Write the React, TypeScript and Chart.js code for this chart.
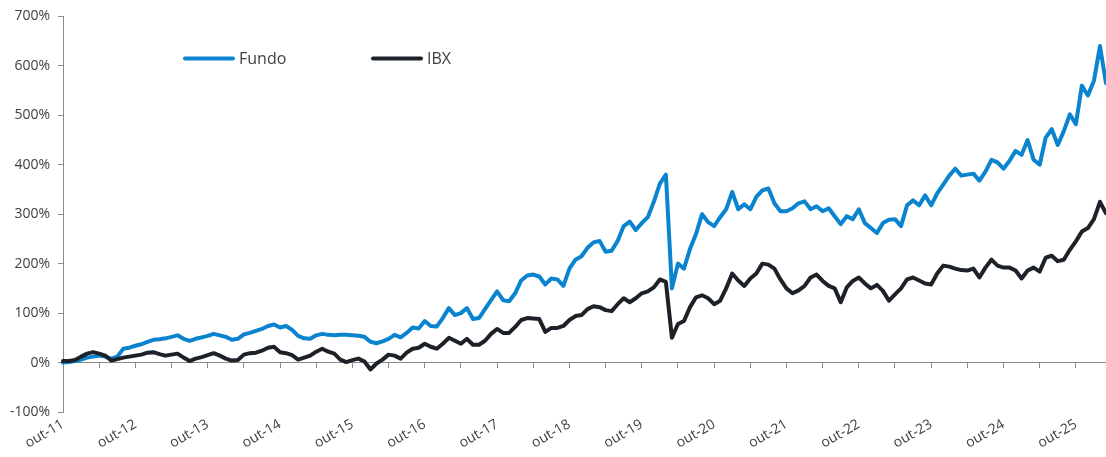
import React, { useEffect, useRef } from 'react';
import { Chart, registerables } from 'chart.js';

Chart.register(...registerables);

// Series names
const seriesNames = ['Fundo', 'IBX'];

// Monthly accumulated return (%), starting out-11
const fundo = [
  0, 1, 3, 6, 10, 12, 14, 12, 8, 12,
  28, 30, 34, 37, 42, 46, 47, 49, 52, 55,
  48, 44, 48, 51, 54, 58, 55, 52, 46, 48,
  57, 60, 64, 68, 74, 77, 71, 74, 66, 54,
  49, 48, 55, 58, 56, 55, 56, 56, 55, 54,
  52, 42, 39, 43, 48, 56, 51, 60, 71, 69,
  84, 74, 73, 90, 110, 96, 100, 110, 88, 90,
  108, 126, 144, 126, 124, 140, 166, 176, 178, 174,
  158, 170, 168, 155, 190, 208, 215, 232, 243, 246,
  224, 226, 246, 276, 285, 268, 282, 294, 325, 362,
  380, 150, 200, 190, 230, 260, 300, 284, 276, 294,
  310, 345, 310, 320, 310, 335, 348, 352, 322, 306,
  306, 312, 322, 326, 310, 316, 306, 312, 296, 280,
  296, 290, 310, 282, 272, 262, 282, 289, 290, 276,
  318, 328, 318, 338, 318, 342, 360, 378, 392, 378,
  380, 382, 368, 386, 410, 405, 392, 408, 428, 420,
  450, 410, 400, 455, 472, 440, 468, 502, 482, 560,
  540, 570, 640, 565,
];

const ibx = [
  3, 3, 5, 12, 18, 21, 18, 14, 4, 7,
  10, 12, 14, 16, 20, 21, 17, 14, 16, 18,
  10, 3, 8, 11, 15, 19, 14, 8, 4, 5,
  16, 19, 20, 24, 30, 32, 21, 19, 15, 6,
  10, 14, 22, 28, 22, 18, 6, 1, 5, 8,
  2, -14, -2, 6, 16, 14, 8, 20, 28, 30,
  38, 32, 28, 38, 50, 44, 38, 48, 36, 36,
  44, 58, 68, 60, 60, 72, 86, 90, 89, 88,
  62, 70, 70, 74, 86, 94, 96, 108, 114, 112,
  106, 104, 118, 130, 122, 130, 140, 144, 152, 168,
  163, 50, 78, 84, 112, 132, 136, 130, 118, 125,
  150, 180, 166, 155, 170, 180, 200, 198, 190, 168,
  150, 140, 146, 155, 172, 178, 165, 155, 150, 122,
  152, 165, 172, 160, 150, 157, 145, 125, 138, 150,
  168, 172, 166, 160, 158, 180, 196, 194, 190, 187,
  186, 190, 172, 192, 208, 196, 192, 192, 186, 170,
  186, 192, 184, 212, 216, 205, 208, 228, 245, 265,
  272, 290, 325, 302,
];

// Month names (pt-BR) used to build monthly categories starting at out-11
const monthNames = ['jan', 'fev', 'mar', 'abr', 'mai', 'jun', 'jul', 'ago', 'set', 'out', 'nov', 'dez'];
const categories = fundo.map((_, i) => {
  const m = (9 + i) % 12;
  const y = 11 + Math.floor((9 + i) / 12);
  return `${monthNames[m]}-${y}`;
});

// Tick labels shown on the horizontal axis
const xTickLabels = [
  'out-11', 'out-12', 'out-13', 'out-14', 'out-15', 'out-16', 'out-17', 'out-18',
  'out-19', 'out-20', 'out-21', 'out-22', 'out-23', 'out-24', 'out-25',
];

const BLUE = '#0A84CE';
const DARK = '#1D2228';
const AXIS = '#8C8C8C';
const TEXT = '#404040';
const FONT = "'Open Sans', 'DejaVu Sans', sans-serif";

const legendPlugin = {
  id: 'insideLegend',
  afterDatasetsDraw(chart: any) {
    const { ctx, chartArea } = chart;
    const items = [
      { label: seriesNames[0], color: BLUE, dx: 122 },
      { label: seriesNames[1], color: DARK, dx: 310 },
    ];
    const y = chartArea.top + 42;
    ctx.save();
    ctx.font = `16px ${FONT}`;
    ctx.textBaseline = 'middle';
    ctx.textAlign = 'left';
    for (const it of items) {
      const x0 = chartArea.left + it.dx;
      ctx.strokeStyle = it.color;
      ctx.lineWidth = 4;
      ctx.lineCap = 'round';
      ctx.beginPath();
      ctx.moveTo(x0, y);
      ctx.lineTo(x0 + 48, y);
      ctx.stroke();
      ctx.fillStyle = TEXT;
      ctx.fillText(it.label, x0 + 54, y + 1);
    }
    ctx.restore();
  },
};

export default function App() {
  const ref = useRef<HTMLCanvasElement>(null);
  useEffect(() => {
    document.body.style.margin = '0';
    const chart = new Chart(ref.current as HTMLCanvasElement, {
      type: 'line',
      data: {
        labels: categories,
        datasets: [
          {
            label: seriesNames[0],
            data: fundo,
            borderColor: BLUE,
            backgroundColor: BLUE,
            borderWidth: 4,
            borderJoinStyle: 'round',
            borderCapStyle: 'round',
            pointRadius: 0,
            tension: 0,
            xAxisID: 'x',
            yAxisID: 'y',
            order: 1,
          },
          {
            label: seriesNames[1],
            data: ibx,
            borderColor: DARK,
            backgroundColor: DARK,
            borderWidth: 4,
            borderJoinStyle: 'round',
            borderCapStyle: 'round',
            pointRadius: 0,
            tension: 0,
            xAxisID: 'x',
            yAxisID: 'y',
            order: 0,
          },
        ],
      },
      options: {
        animation: false,
        responsive: false,
        maintainAspectRatio: false,
        layout: { padding: { top: 16, right: 0, bottom: 0, left: 0 } },
        plugins: { legend: { display: false }, tooltip: { enabled: false } },
        scales: {
          x: {
            type: 'category',
            position: 'bottom',
            offset: false,
            grid: { display: false, drawTicks: false },
            border: { display: false },
            afterBuildTicks: (s: any) => {
              s.ticks = s.ticks.filter((t: any) => xTickLabels.includes(categories[t.value]));
            },
            afterFit: (s: any) => {
              s.height = 45;
            },
            ticks: {
              autoSkip: false,
              minRotation: 30,
              maxRotation: 30,
              padding: 4,
              color: TEXT,
              font: { family: FONT, size: 14 },
              callback: (v: any) => categories[v],
            },
          },
          x0: {
            type: 'category',
            position: { y: 0 },
            offset: false,
            grid: { drawOnChartArea: false, drawTicks: true, tickLength: 5, color: AXIS },
            border: { display: true, color: AXIS },
            ticks: { display: false, autoSkip: false },
            afterBuildTicks: (s: any) => {
              s.ticks = s.ticks.filter((t: any) => t.value % 6 === 0);
            },
          },
          y: {
            type: 'linear',
            position: 'left',
            min: -100,
            max: 700,
            afterFit: (s: any) => {
              s.width = 63;
            },
            grid: { drawOnChartArea: false, drawTicks: true, tickLength: 5, color: AXIS },
            border: { display: true, color: AXIS },
            ticks: {
              stepSize: 100,
              padding: 8,
              color: TEXT,
              font: { family: FONT, size: 14 },
              callback: (v: any) => `${v}%`,
            },
          },
        },
      } as any,
      plugins: [legendPlugin],
    });
    return () => chart.destroy();
  }, []);
  return (
    <div style={{ width: 1106, height: 457 }}>
      <canvas ref={ref} width={1106} height={457} />
    </div>
  );
}
